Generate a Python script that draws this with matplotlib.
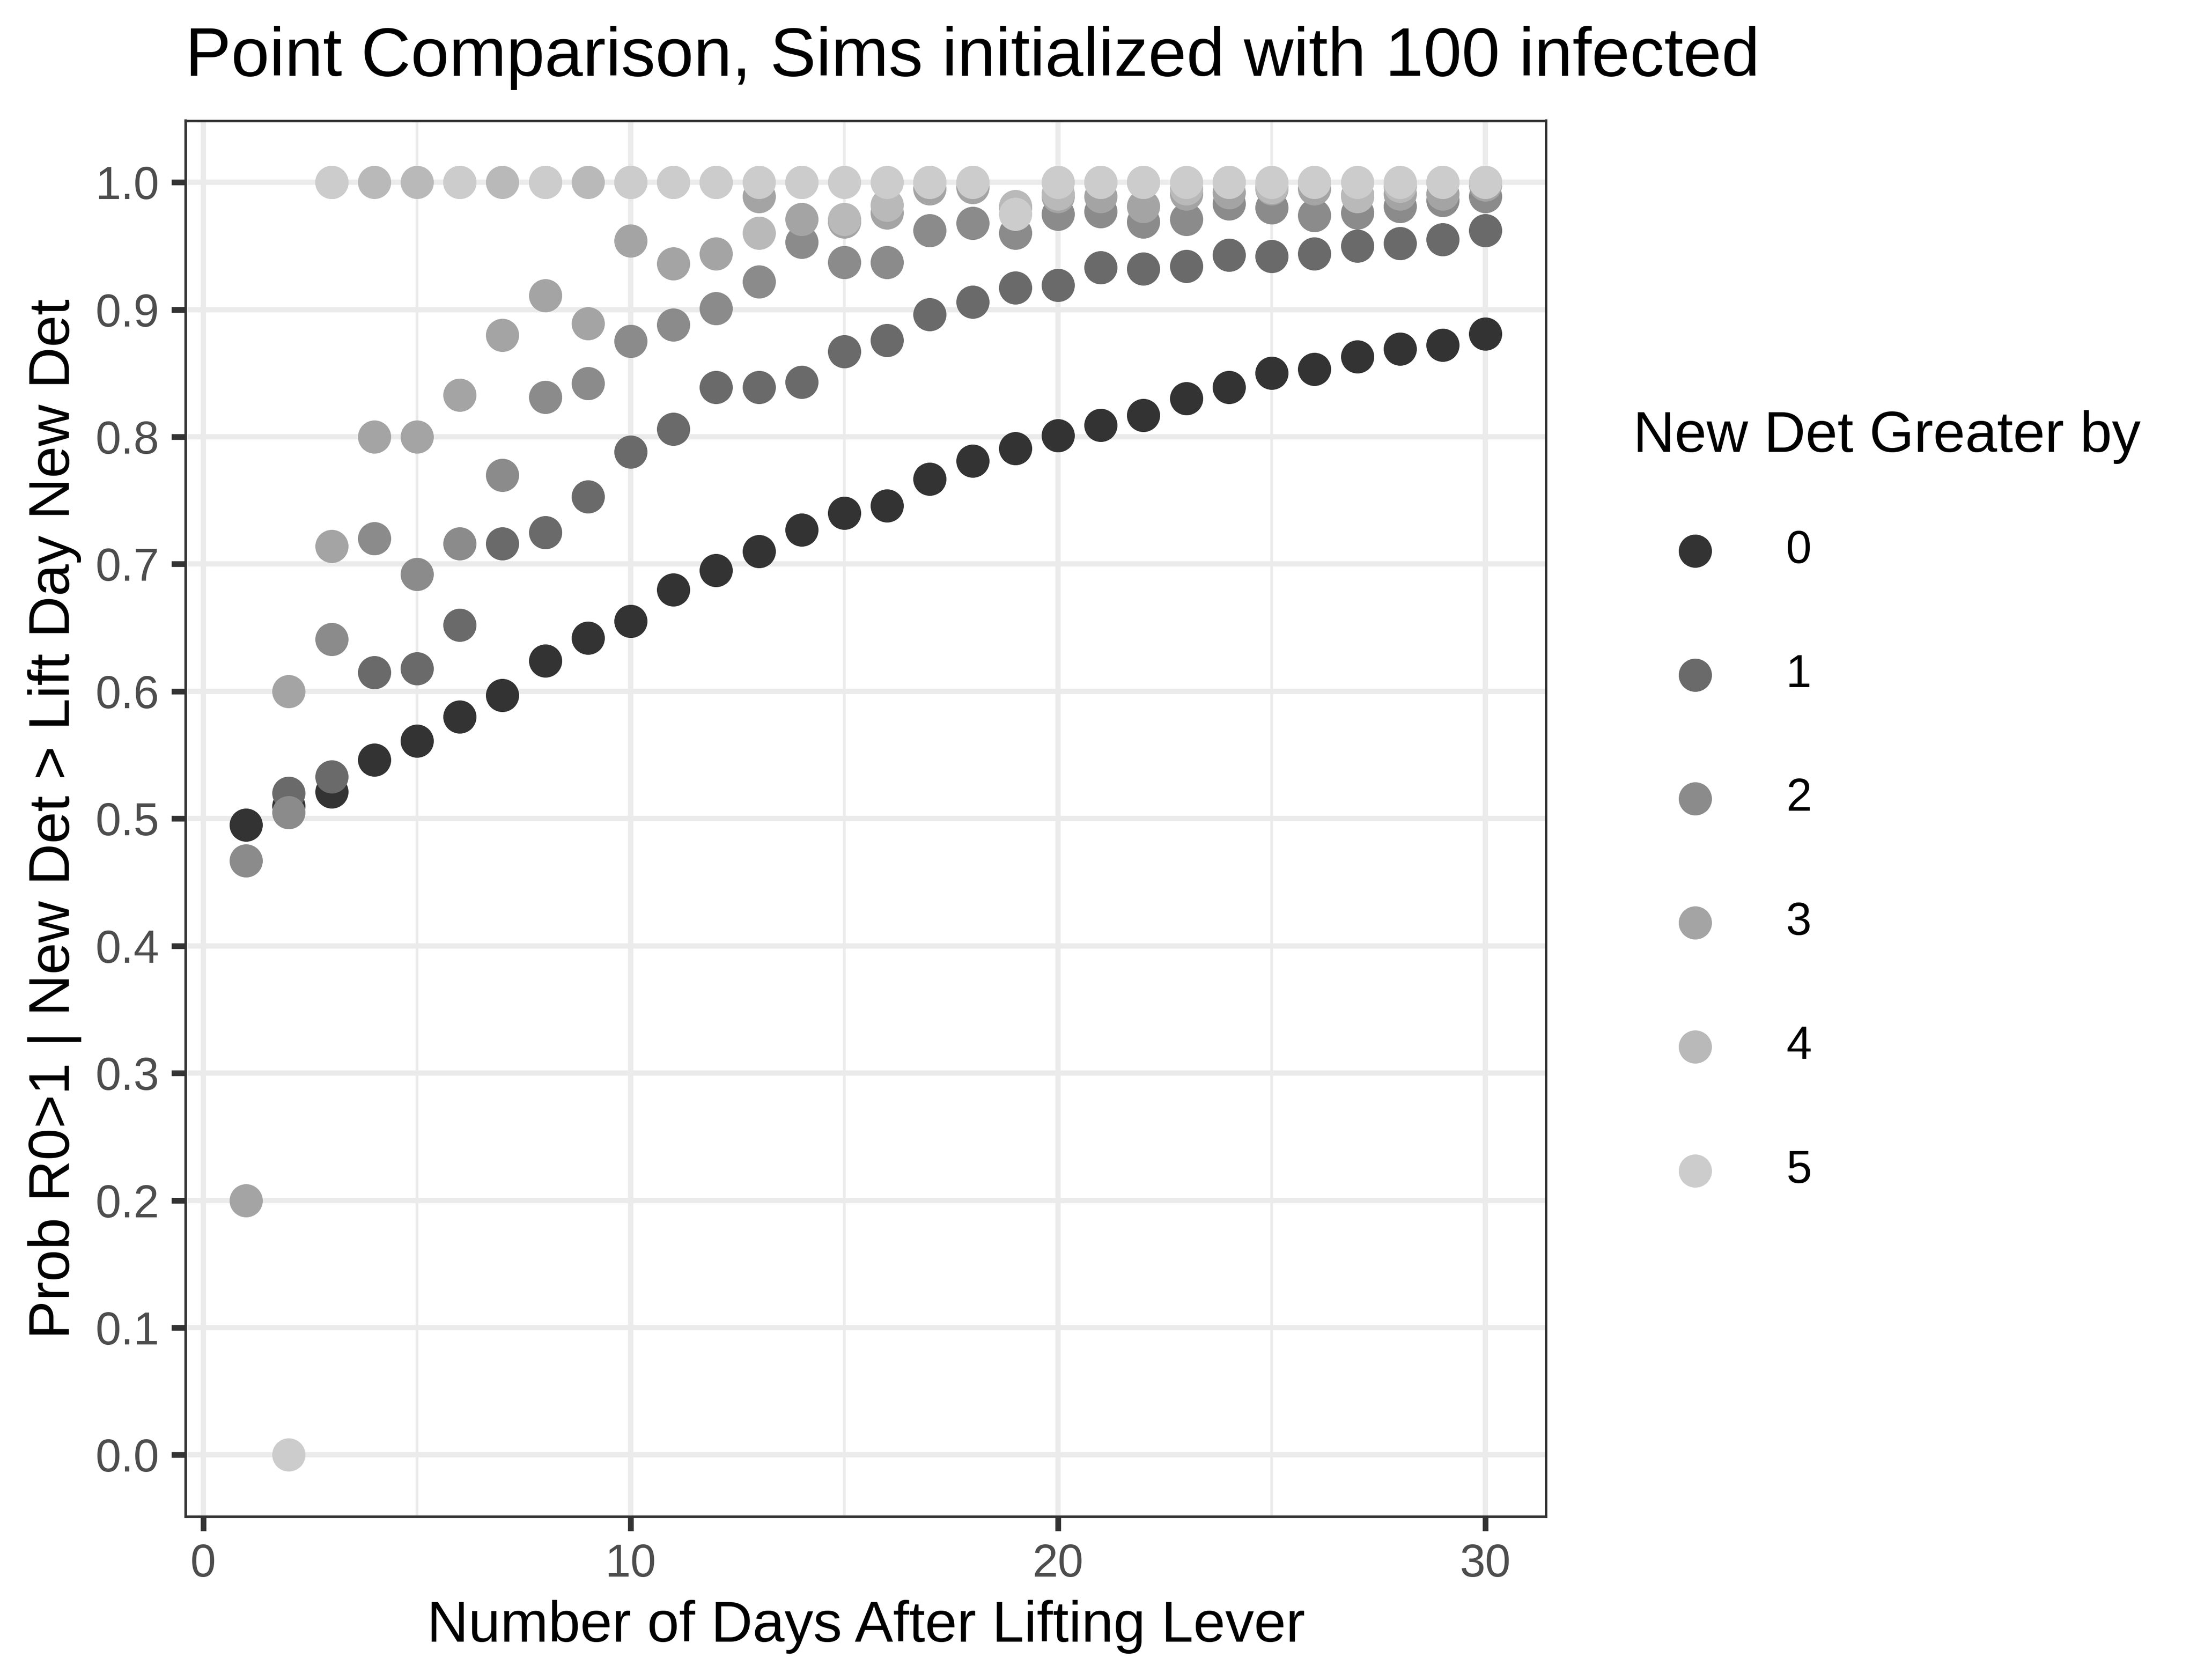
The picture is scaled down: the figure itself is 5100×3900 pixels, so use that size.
import numpy as np
import matplotlib
matplotlib.use("Agg")
import matplotlib.pyplot as plt
from matplotlib.ticker import FormatStrFormatter

plt.rcParams['font.family'] = ['Liberation Sans', 'DejaVu Sans']

nan = np.nan
days = list(range(1, 31))
groups = ["0", "1", "2", "3", "4", "5"]

prob_0 = [0.495, 0.510, 0.521, 0.546, 0.561, 0.580, 0.597, 0.624, 0.642, 0.655,
          0.680, 0.695, 0.710, 0.727, 0.740, 0.746, 0.767, 0.781, 0.791, 0.801,
          0.809, 0.817, 0.830, 0.839, 0.850, 0.853, 0.863, 0.869, 0.872, 0.881]
prob_1 = [nan, 0.520, 0.533, 0.615, 0.618, 0.652, 0.716, 0.725, 0.753, 0.788,
          0.806, 0.839, 0.839, 0.843, 0.867, 0.876, 0.896, 0.906, 0.917, 0.919,
          0.933, 0.932, 0.934, 0.943, 0.942, 0.944, 0.950, 0.952, 0.955, 0.962]
prob_2 = [0.467, 0.505, 0.641, 0.720, 0.692, 0.716, 0.770, 0.831, 0.842, 0.875,
          0.888, 0.901, 0.922, 0.953, 0.937, 0.937, 0.962, 0.968, 0.960, 0.975,
          0.977, 0.969, 0.971, 0.983, 0.980, 0.974, 0.976, 0.981, 0.986, 0.989]
prob_3 = [0.200, 0.600, 0.714, 0.800, 0.800, 0.833, 0.880, 0.911, 0.889, 0.954,
          0.936, 0.944, 0.989, 0.971, 0.969, 0.976, 0.995, 0.996, 0.980, 0.989,
          0.989, 0.981, 0.991, 0.992, 0.995, 0.995, 0.990, 0.991, 0.991, 0.998]
prob_4 = [nan, nan, 1.000, 1.000, 1.000, 1.000, 1.000, 1.000, 1.000, 1.000,
          1.000, 1.000, 0.960, 1.000, 0.971, 0.982, 1.000, 1.000, 0.981, 0.991,
          1.000, 1.000, 0.995, 1.000, 0.996, 1.000, 0.989, 0.997, 1.000, 1.000]
prob_5 = [nan, 0.000, 1.000, nan, nan, 1.000, nan, 1.000, nan, 1.000,
          1.000, 1.000, 1.000, 1.000, 1.000, 1.000, 1.000, 1.000, 0.975, 1.000,
          1.000, 1.000, 1.000, 1.000, 1.000, 1.000, 1.000, 1.000, 1.000, 1.000]
series = [prob_0, prob_1, prob_2, prob_3, prob_4, prob_5]
colors = ["#333333", "#6A6A6A", "#8B8B8B", "#A4A4A4", "#B9B9B9", "#CCCCCC"]

x_ticks = [0, 10, 20, 30]
x_minor = [5, 15, 25]
y_ticks = [0.0, 0.1, 0.2, 0.3, 0.4, 0.5, 0.6, 0.7, 0.8, 0.9, 1.0]

FS_TICK = 25.6
FS_AXIS = 32.0
FS_TITLE = 38.3

W, H = 5100.0, 3900.0
fig = plt.figure(figsize=(17, 13), dpi=300)
left, right = 430.5 / W, 3589 / W
bottom, top = 1 - 3521 / H, 1 - 280.5 / H
ax = fig.add_axes([left, bottom, right - left, top - bottom])

for i, (g, vals) in enumerate(zip(groups, series)):
    ax.scatter(days, vals, s=342, c=colors[i], linewidths=0, label=g, zorder=3 + i)

ax.set_xlim(-0.418, 31.42)
ax.set_ylim(-0.0486, 1.0483)
ax.set_xticks(x_ticks)
ax.set_xticks(x_minor, minor=True)
ax.set_yticks(y_ticks)
ax.yaxis.set_major_formatter(FormatStrFormatter('%.1f'))
ax.set_axisbelow(True)
ax.grid(which='major', color='#EBEBEB', linewidth=2.95)
ax.grid(which='minor', axis='x', color='#EBEBEB', linewidth=1.5)
ax.tick_params(which='major', length=8.0, width=3.2, color='#333333',
               labelsize=FS_TICK, labelcolor='#4D4D4D', pad=6.6)
ax.tick_params(which='minor', length=0)
for sp in ax.spines.values():
    sp.set_color('#333333')
    sp.set_linewidth(1.4)

ax.set_xlabel("Number of Days After Lifting Lever", fontsize=FS_AXIS, labelpad=7.7)
ax.set_ylabel("Prob R0>1 | New Det > Lift Day New Det", fontsize=FS_AXIS, labelpad=7.7)

fig.text(left, 1 - 176 / H, "Point Comparison, Sims initialized with 100 infected",
         fontsize=FS_TITLE, ha='left', va='baseline')

# legend title
fig.text(3791 / W, 1 - 1048.6 / H, "New Det Greater by", fontsize=FS_AXIS,
         ha='left', va='baseline')

leg = ax.legend(loc='upper left',
                bbox_to_anchor=(3828.5 / W, 1 - 1229 / H),
                bbox_transform=fig.transFigure, frameon=False,
                fontsize=FS_TICK, borderpad=0, borderaxespad=0,
                handlelength=2.0, handletextpad=0.98, labelspacing=1.76,
                markerscale=1.0)

fig.savefig("out.png", dpi=300)
